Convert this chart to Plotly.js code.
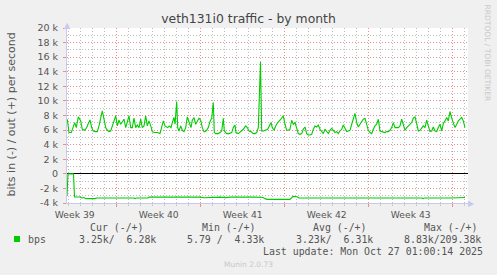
<!DOCTYPE html>
<html>
<head>
<meta charset="utf-8">
<script src="https://cdn.plot.ly/plotly-3.0.1.min.js"></script>
<style>
html,body{margin:0;padding:0;background:#f0f0f0;}
#chart{width:497px;height:275px;}
</style>
</head>
<body>
<div id="chart"></div>
<script>
// ---- data (hours since start of graph, values in k bits/s) ----
const outHours = [0.6,4,8.6,12,15.4,18.6,22.6,27.4,30.6,35.4,39.4,42,46,49.4,52.6,57.4,60.6,64,67.4,70.6,74,77.4,80.6,84,87.4,90.6,94,97.4,100.6,104,107.4,110.6,114,117.4,120.6,124,127.4,130.6,134,137.4,140.6,144,147.4,150.6,154,157.4,160.6,164,168.6,170.6,174,180.6,186,189.4,192.6,196,201.4,204.6,208,210.6,214,216,219.4,221.4,224,227.4,230.6,234,237.4,240.6,244,248,250.6,254,257.4,260.6,264,267.4,270.6,274,276,279.4,282.6,286,289.4,292.6,294.6,297.4,302.6,306,309.4,312.6,314.6,319.4,324,329.4,332.6,336,338,342.6,348,352.6,357.4,360.6,364,368,372.6,376,379.4,382.6,387,389.4,392.6,396,401.4,404.6,408,410.6,414,417.4,421.4,426,429.4,432.6,436,439.4,442.6,446,449.4,452.6,456,459.4,462.6,466,469.4,472.6,476,479.4,482.6,486,489.4,492.6,496,499.4,502.6,506,509.4,512.6,516,519.4,522.6,526,529.4,532.6,536,539.4,542.6,546,549.4,552.6,556,559.4,562.6,566,569.4,572.6,576,579.4,582.6,586,589.4,592.6,596,599.4,602.6,606,609.4,612.6,616,619.4,622.6,626,629.4,632.6,636,639.4,642.6,646,649.4,652.6,656,662.6,666,669.4,672.6,676,679.4,682.6,686,689.4,692.6,696,699.4,702.6,706,709.4,712.6,716,719.4,722.6,726,729.4,732.6,736,739.4,742.6,746,749.4,752.6,756,759.4,762.6,766,769.4,772.6,776,779.4,782.6,786,789.4,792.6,796];
const outK = [7.49,5.66,5.66,6.34,7.03,6.34,7.81,7.26,6.11,5.97,6.34,6.8,7.39,6.34,5.88,5.79,5.79,6.57,7.72,8.63,7.49,6.34,5.97,5.79,5.88,6.57,7.03,7.95,6.57,7.35,6.8,7.17,7.49,6.34,7.26,7.95,6.34,6.34,7.63,6.34,6.7,6.34,7.49,6.34,6.57,7.95,6.57,7.26,6.34,5.79,5.66,5.66,5.52,6.34,7.26,6.57,6.34,6.57,6.34,7.03,7.72,6.8,9.93,6.34,5.88,6.57,5.97,5.79,6.34,7.81,7.03,6.34,7.35,7.72,6.8,7.26,7.63,7.35,6.34,5.79,5.79,5.97,6.34,7.17,7.63,9.79,5.66,5.52,5.52,5.66,5.88,7.63,5.88,5.52,5.52,5.66,6.34,6.7,5.66,5.52,5.79,6.11,6.57,6.34,5.88,5.79,5.52,5.52,5.66,6.34,15.35,5.88,5.88,5.97,6.11,6.57,7.03,6.34,5.97,6.57,7.03,7.35,7.63,7.95,6.8,5.97,5.97,6.11,7.35,6.8,7.03,6.11,5.52,5.42,5.52,6.11,6.43,5.52,5.33,5.33,5.42,6.11,6.57,6.43,6.7,6.11,5.79,5.52,6.11,5.79,5.52,5.97,6.25,5.97,5.66,5.79,5.52,5.88,6.11,6.7,6.11,5.79,5.88,5.97,6.8,7.49,8.28,7.03,6.43,6.8,7.26,7.49,7.6,6.57,5.97,5.66,5.52,6.11,6.57,6.8,7.49,5.88,5.79,5.79,5.66,5.79,5.79,5.97,6.34,7.03,6.34,6.34,6.57,7.49,6.57,5.97,6.34,6.57,6.7,7.03,7.63,7.81,6.9,5.88,5.97,6.34,6.57,6.34,7.35,6.57,5.79,5.88,6.43,5.88,5.79,6.34,6.8,5.88,6.9,7.26,7.72,7.26,8.55,7.63,6.9,6.34,6.8,7.26,7.49,7.72,7.26,6.34];
const inHours = [0,2,13,15,26,30,34,38,56,60,134,136,138,162,164,186,188,214,220,266,274,286,294,306,318,326,376,392,396,400,446,452,460,464,710,712,714,764,766,768,796];
const inK = [-3.0,0,0,-3.17,-3.17,-3.31,-3.25,-3.4,-3.4,-3.31,-3.31,-3.4,-3.31,-3.31,-3.17,-3.17,-3.26,-3.26,-3.2,-3.2,-3.28,-3.22,-3.28,-3.2,-3.26,-3.2,-3.2,-3.25,-3.4,-3.5,-3.5,-3.1,-3.15,-3.31,-3.31,-3.4,-3.31,-3.31,-3.4,-3.31,-3.25];
const yTickVals = [-4,-2,0,2,4,6,8,10,12,14,16,18,20];
const yTickText = ['-4 k','-2 k','0','2 k','4 k','6 k','8 k','10 k','12 k','14 k','16 k','18 k','20 k'];
const graphHours = 802;
const startMs = Date.UTC(2025, 8, 24, 20, 36);
const legendHead = ['Cur (-/+)','Min (-/+)','Avg (-/+)','Max (-/+)'];
const legendVals = ['3.25k/  6.28k','5.79 /  4.33k','3.23k/  6.31k','8.83k/209.38k'];

const toDate = h => new Date(startMs + h*3600000).toISOString().replace('T',' ').slice(0,19);

// plot area in pixels
const L = 67, R = 468, T = 28, B = 203, W = 497, H = 275;
const px = x => (x - L) / (R - L);
const py = y => (B - y) / (B - T);

const green = '#00cc00';
const traces = [
  {x: outHours.map(toDate), y: outK, type: 'scatter', mode: 'lines',
   line: {color: green, width: 1.1}, hoverinfo: 'skip'},
  {x: inHours.map(toDate), y: inK, type: 'scatter', mode: 'lines',
   line: {color: green, width: 1.1}, hoverinfo: 'skip'}
];

const txt = '#555';
const mono = 'DejaVu Sans Mono';
const majorGrid = '#e88c8c';
const minorGrid = '#bdbdbd';
const dots = '1px,2px';
const ann = [];
function addText(text, x, y, size, color, family, anchor, angle) {
  ann.push({text: text, xref: 'paper', yref: 'paper', x: px(x), y: py(y),
    xanchor: anchor || 'left', yanchor: 'middle', showarrow: false,
    textangle: angle || 0, borderpad: 0,
    font: {family: family || 'DejaVu Sans', size: size, color: color}});
}
const headX = [89.3, 200.7, 312.3, 422.7];
const valX = [78.3, 186, 295, 403.3];
legendHead.forEach((t, i) => addText(t, headX[i], 227.7, 9.9, txt, mono));
legendVals.forEach((t, i) => addText(t, valX[i], 239.3, 9.9, txt, mono));
addText('bps', 26.7, 239.3, 9.9, txt, mono);
addText('Last update: Mon Oct 27 01:00:14 2025', 261.7, 251, 9.9, txt, mono);
addText('Munin 2.0.73', 223.3, 264, 7.5, '#c8c8c8');
addText('RRDTOOL / TOBI OETIKER', 487.7, 53.3, 7.5, '#c8c8c8', 'DejaVu Sans', 'center', 90);
addText('bits in (-) / out (+) per second', 10.5, 115, 11, txt, 'DejaVu Sans', 'center', -90);
addText('▲', 67, 25, 8, '#c8c8f0', 'DejaVu Sans', 'center');
addText('▶', 471, 203, 8, '#c8c8f0', 'DejaVu Sans', 'center');

const layout = {
  width: W, height: H, autosize: false,
  paper_bgcolor: '#f0f0f0', plot_bgcolor: '#ffffff',
  margin: {l: L, r: W - R, t: T, b: H - B, pad: 0},
  showlegend: false,
  title: {text: 'veth131i0 traffic - by month', x: 0.5, xanchor: 'center',
    y: 1 - 19/H, yanchor: 'middle', font: {family: 'DejaVu Sans', size: 12.4, color: '#444'}},
  xaxis: {
    type: 'date', range: [toDate(0), toDate(graphHours)],
    tick0: '2025-09-22', dtick: 604800000, tickformat: 'Week %V', ticklabelmode: 'period',
    showgrid: true, gridcolor: majorGrid, griddash: dots, gridwidth: 1,
    ticks: 'outside', ticklen: 3, tickcolor: majorGrid,
    minor: {tick0: '2025-09-22', dtick: 86400000, showgrid: true, gridcolor: minorGrid, griddash: dots,
      ticks: 'outside', ticklen: 2, tickcolor: '#cccccc'},
    showline: true, linecolor: '#c8c8f0', linewidth: 1,
    zeroline: false, fixedrange: true,
    tickfont: {family: 'DejaVu Sans', size: 9.2, color: txt}
  },
  yaxis: {
    range: [-4, 20], tickmode: 'array', tickvals: yTickVals, ticktext: yTickText,
    showgrid: true, gridcolor: majorGrid, griddash: dots, gridwidth: 1,
    ticks: 'outside', ticklen: 3, tickcolor: majorGrid,
    minor: {tickmode: 'linear', tick0: 0, dtick: 1, showgrid: true, gridcolor: minorGrid, griddash: dots},
    zeroline: true, zerolinecolor: '#000000', zerolinewidth: 1,
    showline: true, linecolor: '#c8c8f0', linewidth: 1,
    fixedrange: true, ticklabelstandoff: 3,
    tickfont: {family: 'DejaVu Sans', size: 9.5, color: txt}
  },
  annotations: ann,
  shapes: [
    {type: 'rect', xref: 'paper', yref: 'paper', x0: px(14), x1: px(20), y0: py(242), y1: py(236),
     fillcolor: green, line: {width: 0}}
  ]
};

Plotly.newPlot('chart', traces, layout, {displayModeBar: false, staticPlot: true});
</script>
</body>
</html>
